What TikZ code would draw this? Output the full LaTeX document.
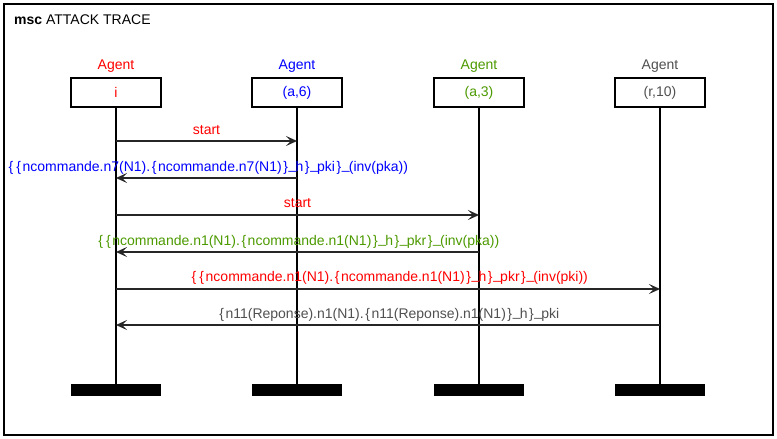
\documentclass[tikz,border=0pt]{standalone}
\usepackage{fontspec}
\setmainfont{Liberation Sans}
\usetikzlibrary{arrows.meta}
\definecolor{cred}{RGB}{255,0,0}
\definecolor{cblue}{RGB}{0,0,255}
\definecolor{cgreen}{RGB}{76,153,0}
\definecolor{cgray}{RGB}{80,80,80}
\newcommand\LBr{\makebox[7.8pt]{\{}}
\newcommand\RBr{\makebox[7.8pt]{\}}}
\newcommand\USc{\makebox[6pt]{\raisebox{1.5pt}{\_}}}
\begin{document}
\begin{tikzpicture}[x=1pt,y=-1pt,
  every node/.style={font=\fontsize{14}{16}\selectfont, inner sep=0pt},
  headbox/.style={draw=black, line width=1.4pt, minimum width=90pt, minimum height=29pt},
  endbar/.style={fill=black, minimum width=90pt, minimum height=12pt},
  life/.style={line width=1.4pt, draw=black},
  msg/.style={line width=1.4pt, draw=black!85, -{Stealth[length=11pt,width=10pt,inset=5pt]}},
  lbl/.style={anchor=base}
]
\useasboundingbox (0,0) rectangle (777,439);
\draw[line width=1.4pt] (4,4) rectangle (773,435);
\node[anchor=base west] (title) at (14,24) {\textbf{msc} ATTACK TRACE};

% heads
\node[lbl, text=cred] (a1) at (116,69) {Agent};
\node[lbl, text=cblue] (a2) at (297,69) {Agent};
\node[lbl, text=cgreen] (a3) at (479,69) {Agent};
\node[lbl, text=cgray] (a4) at (660,69) {Agent};

\node[headbox, text=cred] (h1) at (116,92.5) {i};
\node[headbox, text=cblue] (h2) at (297,92.5) {(a,6)};
\node[headbox, text=cgreen] (h3) at (479,92.5) {(a,3)};
\node[headbox, text=cgray] (h4) at (660,92.5) {(r,10)};

\node[endbar] (e1) at (116,390) {};
\node[endbar] (e2) at (297,390) {};
\node[endbar] (e3) at (479,390) {};
\node[endbar] (e4) at (660,390) {};

\draw[life] (h1.south) -- (e1.north);
\draw[life] (h2.south) -- (e2.north);
\draw[life] (h3.south) -- (e3.north);
\draw[life] (h4.south) -- (e4.north);

% message anchor coordinates
\coordinate (m1a) at (116,141); \coordinate (m1b) at (297,141);
\coordinate (m2a) at (297,178); \coordinate (m2b) at (116,178);
\coordinate (m3a) at (116,215); \coordinate (m3b) at (479,215);
\coordinate (m4a) at (479,252); \coordinate (m4b) at (116,252);
\coordinate (m5a) at (116,289); \coordinate (m5b) at (660,289);
\coordinate (m6a) at (660,325); \coordinate (m6b) at (116,325);

\draw[msg] (m1a) -- (m1b);
\draw[msg] (m2a) -- (m2b);
\draw[msg] (m3a) -- (m3b);
\draw[msg] (m4a) -- (m4b);
\draw[msg] (m5a) -- (m5b);
\draw[msg] (m6a) -- (m6b);

\node[lbl, text=cred] (t1) at (206.5,134) {start};
\node[lbl, text=cblue] (t2) at (207.5,171) {\LBr\LBr ncommande.n7(N1).\LBr ncommande.n7(N1)\RBr\USc h\RBr\USc pki\RBr\USc(inv(pka))};
\node[lbl, text=cred] (t3) at (297.5,207) {start};
\node[lbl, text=cgreen] (t4) at (298,245) {\LBr\LBr ncommande.n1(N1).\LBr ncommande.n1(N1)\RBr\USc h\RBr\USc pkr\RBr\USc(inv(pka))};
\node[lbl, text=cred] (t5) at (389,281) {\LBr\LBr ncommande.n1(N1).\LBr ncommande.n1(N1)\RBr\USc h\RBr\USc pkr\RBr\USc(inv(pki))};
\node[lbl, text=cgray] (t6) at (388.5,318) {\LBr n11(Reponse).n1(N1).\LBr n11(Reponse).n1(N1)\RBr\USc h\RBr\USc pki};
\end{tikzpicture}
\end{document}
